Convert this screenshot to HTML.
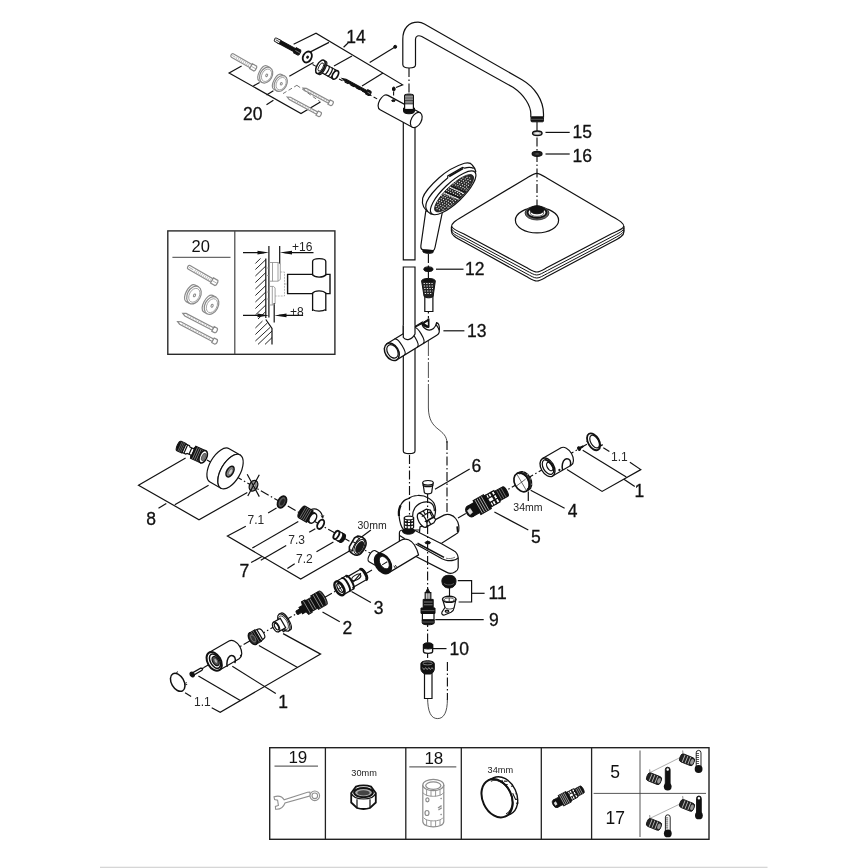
<!DOCTYPE html>
<html>
<head>
<meta charset="utf-8">
<style>
html,body{margin:0;padding:0;background:#fff;}
body{width:868px;height:868px;overflow:hidden;position:relative;}
svg{position:absolute;left:0;top:0;display:block;will-change:transform;}
text{font-family:"Liberation Sans",sans-serif;fill:#111;}
.n{font-size:17.5px;stroke:#111;stroke-width:0.3px;}
.s{font-size:12px;fill:#2a2a2a;}
.m{font-size:10.5px;fill:#222;}
.t{font-size:9.2px;fill:#222;}
.l{stroke:#111;stroke-width:1.2;fill:none;}
.lt{stroke:#222;stroke-width:0.8;fill:none;}
.w{stroke:#111;stroke-width:1.2;fill:#fff;}
.d{stroke:#111;stroke-width:1;fill:#111;}
.g{stroke:#8a8a8a;stroke-width:1.2;fill:#fff;}
.gl{stroke:#8a8a8a;stroke-width:1;fill:none;}
.ax{stroke:#111;stroke-width:1.15;fill:none;stroke-dasharray:9 2.5 1.5 2.5;}
.da{stroke:#111;stroke-width:1.1;fill:none;stroke-dasharray:4 2.5;}
</style>
</head>
<body>
<svg width="868" height="868" viewBox="0 0 868 868">
<rect x="0" y="0" width="868" height="868" fill="#fff"/>
<!--FOOTER-->
<rect x="100" y="866.7" width="667.5" height="1.3" fill="#d6d6d6"/>

<!--LABELS-->
<g id="labels">
<text class="n" x="346.3" y="43.4">14</text>
<text class="n" x="243" y="120.4">20</text>
<text class="n" x="572.5" y="138.4">15</text>
<text class="n" x="572.5" y="162.2">16</text>
<text class="n" x="465" y="275.4">12</text>
<text class="n" x="467" y="336.9">13</text>
<text class="n" x="471.5" y="472.4">6</text>
<text class="n" x="531" y="542.6">5</text>
<text class="n" x="567.8" y="517.4">4</text>
<text class="n" x="634.5" y="496.9">1</text>
<text class="s" x="611" y="461.3">1.1</text>
<text class="m" x="513.3" y="510.8">34mm</text>
<text class="n" x="146.2" y="524.6">8</text>
<text class="s" x="247.5" y="524.3">7.1</text>
<text class="s" x="288.3" y="543.8">7.3</text>
<text class="s" x="296" y="562.7">7.2</text>
<text class="n" x="239.5" y="577.4">7</text>
<text class="m" x="357.5" y="528.8">30mm</text>
<text class="n" x="373.8" y="614.0">3</text>
<text class="n" x="342.5" y="634.4">2</text>
<text class="n" x="278.2" y="707.8">1</text>
<text class="s" x="194" y="706.3">1.1</text>
<text class="n" x="488.5" y="599.0">11</text>
<text class="n" x="489" y="625.9">9</text>
<text class="n" x="449.5" y="655.2">10</text>
</g>

<!--LEADERS-->
<g id="leaders" class="l">
<!-- 14 bracket -->
<path d="M293.6,44.2 L316,33.3 L402.6,84.8 L396,87.5"/>
<path d="M307,53.6 L329,42.4"/>
<path d="M334,66 L352,56"/>
<path d="M369.7,62.5 L395,47"/>
<path d="M362,86 L383,73"/>
<path d="M348,43 L343.6,47.3"/>
<!-- 20 bracket -->
<path d="M241.6,65.9 L229.1,72.9 L301,113.6 L320.4,101.9"/>
<path d="M253.3,86 L259.6,82.5"/>
<path d="M266.5,95 L273.4,90.8"/>
<path d="M266.5,104.7 L273.4,100.2"/>
<path d="M289.3,76.3 L313.5,62.5"/>
<!-- 15/16/12/13 -->
<path d="M545.5,132.4 L569.7,132.4"/>
<path d="M545.5,154 L569.7,154"/>
<path d="M436,269.2 L463.5,269.2"/>
<path d="M443.4,330.8 L464.4,330.8"/>
<!-- 6 -->
<path d="M435,489.2 L469.7,469"/>
<!-- 5, 4, 34mm -->
<path d="M494.4,512 L528.3,530"/>
<path d="M530.7,490.2 L564.6,508.3"/>
<path d="M528.3,491.4 L528.3,501"/>
<!-- 1 right bracket -->
<path d="M582.7,450.2 L626.3,476.9"/>
<path d="M567,469.6 L602.1,491.4 L640.8,469.6 L629.9,462.3"/>
<path d="M603.3,447.8 L609.4,451.5"/>
<path d="M623.9,479.3 L634.8,486.5"/>
<!-- 8 bracket -->
<path d="M185.6,458 L138.5,485.3 L199,519.7 L247.3,492.6"/>
<path d="M208.6,485.3 L174.8,504.7"/>
<path d="M166.3,503.5 L158.5,508.3"/>
<!-- 7 bracket -->
<path d="M245.8,526.3 L227.4,536 L300.7,579 L350.3,550.5"/>
<path d="M298.3,521.5 L252.3,548.1"/>
<path d="M286.2,545.6 L260.8,560.2"/>
<path d="M294.7,563.8 L287.4,568.6"/>
<path d="M333.4,542 L316.5,551.7"/>
<path d="M262,556.5 L251.1,562.6"/>
<path d="M276.5,508.1 L268.1,513"/>
<path d="M315.3,528.7 L309.2,532.3"/>
<path d="M370.9,529.9 L361.2,537.2"/>
<!-- 3, 2 -->
<path d="M351.5,591.6 L370.9,602.5"/>
<path d="M322.5,612 L339.8,621.7"/>
<!-- 1 left bracket -->
<path d="M198.4,675.9 L240.7,700.8"/>
<path d="M232.3,666.2 L275.8,693.6"/>
<path d="M258.9,645.6 L297.6,667.4"/>
<path d="M283.1,633.6 L320.6,654.1 L220.2,712.2 L211.7,707.8"/>
<path d="M185.1,692.8 L191.1,696.5"/>
<!-- 11, 9, 10 -->
<path d="M457.8,580.7 L471.6,580.7 L471.6,602 L458.6,602"/>
<path d="M471.6,593.3 L484.6,593.3"/>
<path d="M435.3,619.6 L483.7,619.6"/>
<path d="M432.7,648.6 L446.5,648.6"/>
</g>

<g id="axes">
<!-- vertical axes -->
<path class="ax" d="M409,68 L409,94"/>
<path class="ax" d="M428.4,254 L428.4,323"/>
<path class="ax" d="M447,441 L447,512"/>
<path class="ax" d="M447.4,662 L447.4,700"/>
<path class="ax" d="M449.5,588 L449.5,598"/>
<!-- hose thin line -->
<path class="lt" style="stroke-dasharray:16 2 2 2" d="M428.4,340 L428.4,402"/>
<path class="lt" d="M428.4,400 L428.4,408 C428.6,420 433,425 438,429 C443,433 446.8,436 447,443"/>
<path class="lt" d="M427.6,697 C427.6,712 431,718.6 437.6,718.6 C444,718.6 447.4,712 447.4,699"/>
<!-- diagonal axes -->
<path class="ax" d="M207,460 L370,553"/>
<path class="ax" d="M190,675.5 L372,570"/>
<path class="ax" d="M458,518 L596,439"/>
<path class="da" d="M312.6,64.5 L322,69.5 M339,79 L372,96 L380,100.5"/>
<path class="da" d="M296.9,85.3 L320.4,101.9 M283,93.6 L296.9,85.3" style="stroke:#555;stroke-width:0.8"/>
</g>

<g id="arm">
<path class="w" d="M402.8,64.5 L402.8,39.2 C402.8,28 409,22.2 418,22.2 C421,22.2 423,23.2 424.4,24 L522,79.7 C534.6,87 543.5,100 543.5,114 L543.5,117 L530.8,117 L530.8,114 C530.8,106 524.5,95 513,87.3 L421.8,36.6 C418.5,34.8 415.5,36 415.5,39.2 L415.5,65 C415.5,67 412.5,68 409.2,68 C405.8,68 402.8,67 402.8,64.5 Z"/>
<rect class="d" x="531" y="117" width="12.5" height="4.8" rx="1"/>
<path d="M531,119.3 L543.5,119.3" stroke="#888" stroke-width="0.6"/>
</g>

<g id="pipe">
<path class="w" d="M403.3,122 L403.3,259.8 L415,259.8 L415,122 Z"/>
<path class="w" d="M403.3,267 L403.3,451 C403.3,454.5 415,454.5 415,451 L415,267 Z"/>
</g>

<g id="wallbracket" transform="translate(384,102.6) rotate(28.4)">
<path class="w" d="M0,-8.2 C-6.5,-8.2 -6.5,8.2 0,8.2 L36.7,8.2 L36.7,-8.2 Z"/>
<ellipse class="w" cx="36.7" cy="0" rx="5" ry="8.2"/>
</g>
<g id="wallfit">
<path class="d" d="M403.5,108 L403.5,111.5 C403.5,114.5 414.5,114.5 414.5,111.5 L414.5,108 Z"/>
<rect class="w" x="404.6" y="96" width="8.8" height="13.5"/>
<path d="M404.6,95.8 C404.6,93.3 413.4,93.3 413.4,95.8 L413.4,100.3 L404.6,100.3 Z" fill="#555" stroke="#111" stroke-width="1.1"/>
<path d="M405,96.4 L413,96.4 M405,98 L413,98 M405,99.6 L413,99.6" stroke="#ccc" stroke-width="0.6"/>
<path class="l" d="M404.6,102 L413.4,102 M404.6,103.8 L413.4,103.8" style="stroke-width:1"/>
<ellipse class="d" cx="393.8" cy="89" rx="1.4" ry="2"/>
<ellipse class="d" cx="393.4" cy="100.7" rx="1.7" ry="0.9"/>
<path class="da" d="M393.6,91.5 L393.6,99"/>
<circle class="d" cx="395.2" cy="46.8" r="1.5"/>
</g>

<g id="headshower">
<!-- rim -->
<path class="w" d="M464.2,215.6 L526,178.4 C531,175.4 534,173.3 536.8,173.3 C539.6,173.3 542.6,175.4 547.6,178.4 L610.5,215.6 C620,221 624,223 624,227 L624,231.5 C624,235.5 620,238 611,242.5 L547.6,276.3 C542.6,279 539.6,281 536.8,281 C534,281 531,279 526,276.3 L464,242 C455,237.5 451.4,235 451.4,231 L451.4,227 C451.4,223 455,221 464.2,215.6 Z"/>
<path class="l" d="M451.6,228 C452,231 455,232.5 464,237 L526,270.4 C531,273 534,275 536.8,275 C539.6,275 542.6,273 547.6,270.4 L611,237.2 C620,232.5 623.5,231 623.8,228" style="stroke-width:1"/>
<path class="l" d="M451.6,230 C452,233.5 455,235 464,239.5 L526,273.4 C531,276 534,278 536.8,278 C539.6,278 542.6,276 547.6,273.4 L611,240 C620,235 623.5,233.5 623.8,230" style="stroke-width:1"/>
<!-- top face -->
<path class="l" d="M451.5,226 C452,228.5 455,230.2 464,234 L526,267.3 C531,270 534,272 536.8,272 C539.6,272 542.6,270 547.6,267.3 L611,234 C620,230.2 623.5,228.5 623.9,226"/>
<ellipse class="l" cx="537" cy="220.3" rx="21.6" ry="12.6"/>
<ellipse cx="537" cy="213" rx="12" ry="7" fill="#666" stroke="#222" stroke-width="0.8"/>
<ellipse cx="537" cy="212.4" rx="9.4" ry="5.5" fill="#fff" stroke="#111" stroke-width="1.8"/>
<ellipse cx="537" cy="213" rx="6.8" ry="3.4" fill="none" stroke="#333" stroke-width="0.8"/>
<ellipse class="d" cx="537" cy="209.8" rx="7" ry="4"/>
<path class="ax" d="M537,122 L537,206"/>
</g>

<g id="handshower">
<!-- handle -->
<path class="w" d="M425.8,211 L420.9,245.5 C420.6,248.2 422,249.6 423,249.8 L433.2,250.6 C434,250.4 434.6,249.5 435,247.5 L442.6,211 Z"/>
<path class="d" d="M422.9,249.8 L433.3,250.6 L433,252.6 C431,253.8 425,253.6 423,252 Z"/>
<!-- head back -->
<g transform="translate(453,193) rotate(-43.5)">
<path class="w" d="M-30.5,0 C-32.8,-8 -30,-14 -25.5,-17.2 C-20,-20.2 -10,-20.9 0.4,-20.6 C10,-20.4 20,-18 28.8,-13.7 C32,-11.8 33.6,-9 33.2,-7.1 C33.2,-4 32.6,-2 31.4,0 L20,6 L-20,6 Z"/>
<path class="l" d="M-31,-4.4 C-30.5,-8 -28,-10.5 -25,-11.8 C-20,-14 -10,-15 0,-14.9 L6.5,-14.6 L8,-16 L24.5,-12 L25.5,-10 C28.5,-8.6 31,-6 32,-3.6"/>
<path d="M8.6,-14.6 L24,-10.9" stroke="#111" stroke-width="1.7" fill="none"/>
<ellipse class="w" cx="0.2" cy="0" rx="30" ry="9.8"/>
<ellipse cx="0.6" cy="0.9" rx="25.8" ry="7.9" fill="#2a2a2a" stroke="#111" stroke-width="0.8"/>
<g stroke="#fff" stroke-width="1" fill="none" stroke-dasharray="1.1 1.4">
<path d="M-23,0.5 L23,0.5 M-22,2.8 L22,2.8 M-19,5 L19,5 M-22,-1.8 L22,-1.8 M-14,7 L14,7 M-18,-4 L18,-4 M-11,-6 L11,-6"/>
</g>
<path d="M-5,-6.6 L2,8.4 M3.5,-6.6 L9.5,7.8" stroke="#111" stroke-width="1.5" fill="none"/>
<path d="M-6.9,-6.6 L0,8.6 M1.6,-6.8 L7.5,8" stroke="#fff" stroke-width="0.8" fill="none"/>
</g>
</g>

<g id="hose12">
<ellipse class="d" cx="428.4" cy="269.2" rx="4.6" ry="2.3"/>
<path class="w" d="M424.8,296 L424.8,311.5 L432.9,311.5 L432.9,296 Z"/>
<path d="M421.6,281 C421.6,277.6 435.3,277.6 435.3,281 L433.2,296 C433,298.4 424.2,298.4 424,296 Z" fill="#222" stroke="#111" stroke-width="1"/>
<g stroke="#fff" stroke-width="0.9" stroke-dasharray="1.3 1.3" fill="none">
<path d="M423.6,283.5 L433.6,283.5 M423.8,286 L433.4,286 M424.2,288.5 L433,288.5 M424.5,291 L432.8,291 M424.8,293.5 L432.5,293.5"/>
</g>
<ellipse cx="428.4" cy="280.4" rx="5.6" ry="1.8" fill="#111"/>
</g>

<g id="slider13">
<g transform="translate(391.8,351.8) rotate(-31.5)">
<path class="w" d="M0,-9.4 L46,-9.4 C49,-9.4 52,-6 52,-2 L52,4 C52,8 50,9.4 47,9.4 L0,9.4 Z"/>
<ellipse class="w" cx="0" cy="0" rx="6.6" ry="9.4" style="stroke-width:1.5"/>
<ellipse class="w" cx="0.8" cy="0" rx="5" ry="7.3"/>
<path class="l" d="M9,-9.4 C13,-9.4 13,9.4 9,9.4"/>
<path class="l" d="M24,-9.4 C28.5,-9.4 28.5,9.4 24,9.4"/>
<path class="l" d="M31,-9.4 C35.5,-9.4 35.5,9.4 31,9.4"/>
</g>
<!-- pipe pass-through -->
<path d="M403.3,325.4 L403.3,337.5 C406,341 412,340.5 415,334 L415,325.4 Z" fill="#fff"/>
<path class="l" d="M403.3,325.4 L403.3,337.5 C406,341 412,340 415,334 L415,325.4"/>
<!-- fork notch -->
<path d="M421.8,323.4 C424,329 430,331 433.5,328.5 C436,326.5 436.5,324 436.5,322.8 L432,318 L424,319 Z" fill="#fff"/>
<path class="l" d="M415.5,327 L421.8,323.4 C423,329 429,332 433.5,328.5 C436,326.5 436.3,324 436.6,322.6 C438.5,323 439.6,326 439.4,330.5"/>
<path class="d" d="M420.5,324 L429,318.8 L429,327.5 C426,327.5 423.5,326.5 421.8,323.4 Z"/>
<path d="M424.5,323.6 L427.8,321.5 L427.8,325.6 Z" fill="#fff"/>
</g>

<g id="mixer">
<!-- escutcheon -->
<path class="w" d="M398.9,514.6 C398.5,507 402,500.5 407.7,498.9 C411,496.5 414,495.5 417.5,495.5 C422,495.3 426,496.5 428.3,497.9 C432,500 434,502.5 434.7,505 C435.6,507.5 435.8,512 434.7,516.1 L430,530 L404,530 C401.5,528 399.5,521 398.9,514.6 Z"/>
<path d="M400.6,505.5 C399,508.5 398.6,512 399,516" stroke="#111" stroke-width="2.2" fill="none"/>
<path class="l" d="M412.6,516.5 C412.6,512 414.6,507.5 417,505.5 C420.5,502.5 424,501.7 427.3,501.9 C430.5,502.3 432.7,504 433.6,506.5 C434.4,508.5 434.4,510 434.2,511.2"/>
<!-- right cylinder -->
<path class="w" d="M427.3,523.9 L444,515.1 C446,514.2 448,514.1 449.8,514.6 C452.5,515.3 454.5,516.8 455.7,518.5 C457.3,520.5 458.3,523 458.7,525.4 C459,527.5 459,529.5 458.7,531.2 C458.3,532.6 457.2,533.5 455.7,534.2 L442,543 L418,548 L420,527 Z"/>
<path d="M457.1,526.3 L457.7,532" stroke="#111" stroke-width="1.6" fill="none"/>
<!-- right nut -->
<g transform="translate(422.2,520.3) rotate(-29)">
<path class="w" d="M0,-7.8 L9,-7.8 L12,-5 L12,6 L9,7.8 L0,7.8 Z"/>
<ellipse class="w" cx="0" cy="0" rx="3.6" ry="7.8" style="stroke-width:1.3"/>
<path class="l" d="M1.5,-3.6 L10.5,-3.6 L12,-2 M1.5,2.6 L10.5,2.6 L12,3.6 M5.5,-7.8 L5.5,-3.6 M5.5,2.6 L5.5,7.8 M10.5,-3.6 L10.5,2.6" style="stroke-width:1.2"/>
</g>
<path class="l" d="M434.2,517 L427.6,520.8"/>
<!-- spout body -->
<path class="w" d="M399.4,533 C399.4,531 400.5,530 403,530 L414.6,530.3 L442,544 L453.8,550.8 C456,552 457.7,554 458.2,557.7 L458.2,567.5 C458,569.5 457,570.8 455.7,571.4 C454,572.5 452.5,573.4 450.8,573.4 C449.5,573.4 448,573 446.9,572.4 L416.5,556.7 L403,548 L399.4,541 Z"/>
<path class="l" d="M458,558 C456.5,559.3 455,560 453.8,560.2 C452,560.7 450,560.8 447.9,560.6 C446,560.3 444,559.6 442,558.7 L415.6,544"/>
<path d="M417.5,543.2 L444,557.4" stroke="#111" stroke-width="1.6" fill="none"/>
<path d="M446,558.2 C449,559 452,558.6 455,557.2" stroke="#555" stroke-width="0.8" fill="none"/>
<path class="l" d="M399.6,535.5 L404.8,538.8"/>
<ellipse class="d" cx="427.8" cy="542.7" rx="2.7" ry="1.2"/>
<!-- left nut -->
<ellipse class="d" cx="408.5" cy="531.2" rx="6.1" ry="3"/>
<path class="w" d="M404.3,518 L404.3,527.3 C404.3,529.6 413.6,529.6 413.6,527.3 L413.6,518 Z"/>
<ellipse class="w" cx="408.95" cy="518" rx="4.65" ry="1.9"/>
<path class="l" d="M407.2,519.8 L407.2,528.7 M410.7,519.8 L410.7,528.7 M404.3,521.5 C405.5,522.8 412.5,522.8 413.6,521.5 M404.3,524.6 C405.5,525.9 412.5,525.9 413.6,524.6"/>
<!-- stub -->
<g transform="translate(372.2,556.2) rotate(30)">
<path class="w" d="M0,-6.3 L12,-6.3 L12,6.3 L0,6.3 C-4,6.3 -4,-6.3 0,-6.3 Z"/>
</g>
<!-- left cylinder -->
<g transform="translate(383,563.6) rotate(-31)">
<path class="w" d="M0,-10.8 L27,-10.8 C33.5,-10.8 36.5,-5 36.5,0 C36.5,5 36,8 35,10.8 L0,10.8 Z"/>
<ellipse cx="0" cy="0" rx="7.4" ry="10.8" fill="#111" stroke="#111" stroke-width="1.6"/>
<ellipse cx="1.6" cy="-0.2" rx="4.2" ry="6.8" fill="#fff" stroke="#111" stroke-width="0.8"/>
<path d="M-1.4,0.6 L4.6,0.6" stroke="#111" stroke-width="0.9"/>
<path class="l" d="M8.2,7.4 L8.2,10.2 M9.8,7.6 L9.8,10.2" style="stroke-width:0.8"/>
</g>
</g>

<path class="ax" d="M409.5,455 L409.5,517"/>
<path class="ax" d="M427.6,494 L427.6,660"/>
<g id="part6">
<path class="w" d="M423,483 L424.3,492.3 C424.5,494.3 431.5,494.3 431.7,492.3 L433,483 Z"/>
<ellipse class="w" cx="428" cy="482.8" rx="5.3" ry="2.3"/>
<path class="l" d="M422.8,484.5 C423.5,487.3 432.5,487.3 433.2,484.5"/>
</g>

<g id="cart5" transform="translate(470,511.5) rotate(-29.5)">
<path class="d" d="M0,-5.8 L11,-5.8 L11,5.8 L0,5.8 Z"/>
<path class="d" d="M8,-8 L20,-8 L20,8 L8,8 Z"/>
<path d="M10,-7.6 L10,7.6 M12.4,-7.6 L12.4,7.6 M14.8,-7.6 L14.8,7.6 M17.2,-7.6 L17.2,7.6" stroke="#bbb" stroke-width="0.8" fill="none"/>
<path class="w" d="M20,-6.4 L31,-6.4 L31,6.4 L20,6.4 Z"/>
<path class="d" d="M20,-6.4 L21.6,-6.4 L21.6,6.4 L20,6.4 Z M26.8,-6.4 L28,-6.4 L28,6.4 L26.8,6.4 Z"/>
<path class="l" d="M21.6,-2.4 L31,-2.4 M21.6,2 L31,2 M24,-6.4 L24,-2.4 M24,2 L24,6.4"/>
<path class="d" d="M31,-5.4 L40.5,-5.4 C43,-5.4 43,5.4 40.5,5.4 L31,5.4 Z"/>
<path d="M33.5,-5 L33.5,5 M36,-5 L36,5 M38.5,-5 L38.5,5" stroke="#999" stroke-width="0.6" fill="none"/>
<ellipse class="d" cx="0" cy="0" rx="3.8" ry="5.8"/>
<path d="M-1.8,-2 L1.6,-2.6 L1.8,2 L-1.6,2.6 Z" fill="#ddd" stroke="#fff" stroke-width="0.5"/>
</g>

<g id="ring4" transform="translate(521.6,482.3) rotate(-27)">
<path d="M0,-10 L2.8,-10 A7,10 0 0 1 2.8,10 L0,10 Z" fill="#333" stroke="#111" stroke-width="1.2"/>
<path d="M5.6,-8 L7,-8.8 M8.2,-4 L9.8,-4.4 M8.8,1 L10,1 M7.6,6 L9,6.6" stroke="#ccc" stroke-width="0.7" fill="none"/>
<ellipse cx="0" cy="0" rx="7" ry="10" fill="#fff" stroke="#111" stroke-width="1.7"/>
<path d="M1.5,-8.6 A5.4,8.6 0 0 1 1.5,8.6" fill="none" stroke="#111" stroke-width="0.8"/>
<path class="lt" d="M-0.5,-9 L0.5,9 M-6.6,1 L5,-1" style="stroke-width:0.6"/>
</g>

<g id="handleR" transform="translate(547.5,467.3) rotate(-30)">
<path class="w" d="M0,-10.1 L21.5,-10.1 A6.2,10.1 0 0 1 21.5,10.1 L0,10.1 Z"/>
<ellipse class="w" cx="0" cy="0" rx="6.4" ry="10.1" style="stroke-width:1.4"/>
<ellipse class="w" cx="0.6" cy="0" rx="4.8" ry="8"/>
<ellipse class="l" cx="2.4" cy="0.5" rx="2.6" ry="4.6"/>
<path class="l" d="M1.5,-7.8 C4.5,-5.6 5.5,3 3.4,7.2"/>

<circle class="d" cx="9" cy="8.2" r="0.6"/>
</g>

<path d="M562.6,470 C561.5,466 562.5,461 565,459.3 C567.5,457.8 570.3,459.5 570.6,462.5 C570.8,464 570.4,465.5 569.9,466" fill="none" stroke="#111" stroke-width="1.5"/>
<g id="capR">
<g transform="translate(580.3,447.8) rotate(-29.8)">
<ellipse class="d" cx="-1.5" cy="0" rx="1.3" ry="1.9"/>
<path class="d" d="M-1,-0.8 L3.2,-0.4 L3.2,0.4 L-1,0.8 Z"/>
</g>
<g transform="translate(593.6,441.8) rotate(-29.8)">
<ellipse cx="0" cy="0" rx="5.5" ry="9.2" fill="#fff" stroke="#111" stroke-width="1.8"/>
<ellipse class="l" cx="1" cy="0.3" rx="3.9" ry="7"/>
<path class="l" d="M4,7 L6.5,7 M-4.6,-3.5 L-6,-3.5" style="stroke-width:1.3"/>
</g>
</g>

<g id="grp8">
<!-- S-union -->
<g transform="translate(178.5,445.8) rotate(24)">
<path class="d" d="M0.5,-5.2 L6,-5.2 L6,5.2 L0.5,5.2 C-2,5.2 -2,-5.2 0.5,-5.2 Z"/>
<path d="M1.6,-5 L1.6,5 M3.2,-5 L3.2,5 M4.8,-5 L4.8,5" stroke="#888" stroke-width="0.6"/>
<path class="w" d="M6,-4.6 L10,-4.6 L11,-3.4 L15,-3.4 L16,-6 L16,6 L15,3.4 L11,3.4 L10,4.6 L6,4.6 Z"/>
<path class="l" d="M8,-4.6 L8,4.6 M13,-3.4 L13,3.4"/>
<path class="d" d="M16,-6.6 L27,-6.6 L27,6.6 L16,6.6 Z"/>
<path d="M18,-6.2 L18,6.2 M20,-6.2 L20,6.2 M22,-6.2 L22,6.2 M24,-6.2 L24,6.2" stroke="#aaa" stroke-width="0.6"/>
<ellipse cx="27" cy="0" rx="3.6" ry="6.6" fill="#fff" stroke="#111" stroke-width="1.6"/>
<ellipse cx="27.6" cy="0" rx="2" ry="4" fill="#777" stroke="#333" stroke-width="0.6"/>
</g>
<!-- disc -->
<g transform="translate(230.5,471.6) rotate(30)">
<path class="w" d="M-12.6,-19.2 L0,-19.2 L0,19.2 L-12.6,19.2 A9.6,19.2 0 0 1 -12.6,-19.2 Z"/>
<ellipse class="w" cx="0" cy="0" rx="9.6" ry="19.2"/>
<path class="l" d="M-3,-18.4 A9.6,19.2 0 0 0 -3,18.4" style="stroke-width:0.7"/>
<ellipse cx="-0.4" cy="0.2" rx="3.2" ry="5.8" fill="#888" stroke="#111" stroke-width="1.6"/>
<ellipse cx="0.2" cy="0.2" rx="1.6" ry="3.4" fill="#ccc" stroke="#444" stroke-width="0.5"/>
</g>
<!-- crossed washer -->
<g transform="translate(253.5,485.7)">
<ellipse cx="0" cy="0" rx="3.9" ry="5.6" fill="#999" stroke="#111" stroke-width="1.4" transform="rotate(25)"/>
<ellipse cx="0.3" cy="0" rx="1.5" ry="2.6" fill="#ddd" stroke="#333" stroke-width="0.5" transform="rotate(25)"/>
<path class="l" d="M-6.3,-11.5 L5.8,10.9 M5.8,-11 L-5.7,10.3"/>
</g>
</g>

<g id="grp7">
<g transform="translate(282,502) rotate(28)">
<ellipse cx="0" cy="0" rx="3.9" ry="6.2" fill="#555" stroke="#111" stroke-width="1.8"/>
<ellipse cx="0.4" cy="0" rx="1.8" ry="3.6" fill="#222"/>
</g>
<!-- connector -->
<g transform="translate(302,512) rotate(30)">
<path class="d" d="M0,-6.6 L9,-6.6 L9,6.6 L0,6.6 C-3.5,6.6 -3.5,-6.6 0,-6.6 Z"/>
<path d="M1,-6.2 L1,6.2 M3,-6.4 L3,6.4 M5,-6.4 L5,6.4 M7,-6.4 L7,6.4" stroke="#999" stroke-width="0.6"/>
<path class="d" d="M9,-5.6 L12.5,-5.6 L12.5,5.6 L9,5.6 Z"/>
<ellipse cx="12.5" cy="0" rx="3.2" ry="5.4" fill="#fff" stroke="#111" stroke-width="1.5"/>
</g>
<path class="l" d="M310.6,509.7 C316,507 322,511 322.6,517.5"/>
<path class="l" d="M321,515.5 L322.7,518.3 L323.8,515.2" style="stroke-width:0.8"/>
<ellipse cx="320.7" cy="524.3" rx="2.9" ry="5" fill="#fff" stroke="#111" stroke-width="1.9" transform="rotate(28 320.7 524.3)"/>
<!-- sleeve 7.2 -->
<g transform="translate(336.4,534.9) rotate(30)">
<path class="w" d="M0,-4.5 L7,-4.5 L7,4.5 L0,4.5 Z"/>
<path class="d" d="M4.6,-4.5 L7,-4.5 C10,-4.5 10,4.5 7,4.5 L4.6,4.5 C6.6,2.5 6.6,-2.5 4.6,-4.5 Z"/>
<ellipse cx="0" cy="0" rx="2.3" ry="4.5" fill="#fff" stroke="#111" stroke-width="1.8"/>
</g>
<!-- nut 30mm -->
<g transform="translate(357.5,545.6) rotate(30)">
<path d="M-6.5,-5 L-4.5,-8.4 C-2,-10 3,-10 5,-8 C8.4,-5 8.4,5 5,8 C3,10 -2,10 -4.5,8.4 L-6.5,5 Z" fill="#fff" stroke="#111" stroke-width="1.6"/>
<path class="l" d="M-6.5,-1 L-1.5,-1.4 M-5,-7.6 L-1.2,-6.4 M-5,7.6 L-1.2,6.4 M-1.5,-9 C-3.5,-5 -3.5,5 -1.5,9" style="stroke-width:1"/>
<ellipse cx="2.2" cy="0" rx="4.4" ry="8" fill="#fff" stroke="#111" stroke-width="1"/>
<ellipse cx="2.6" cy="0.2" rx="3.5" ry="6.6" fill="#1a1a1a"/>
</g>
</g>

<g id="grpL">
<!-- part 3 -->
<g transform="translate(339.5,588.3) rotate(-30)">
<path class="w" d="M0,-7.6 L12,-7.6 L12,-6 L28,-6 C31,-6 31,6 28,6 L12,6 L12,7.6 L0,7.6 Z"/>
<path d="M27,-6 C30.5,-6 30.5,6 27,6" fill="none" stroke="#111" stroke-width="3"/>
<path d="M7,-7.6 C10.5,-7.6 10.5,7.6 7,7.6 M11.5,-7.6 C15,-7.6 15,7.6 11.5,7.6" fill="none" stroke="#111" stroke-width="2"/>
<ellipse class="l" cx="20" cy="-1" rx="5" ry="2.4" style="stroke-width:1.1"/>
<path class="l" d="M15,1.5 L26,-2.5"/>
<ellipse cx="0" cy="0" rx="4" ry="7.6" fill="#fff" stroke="#111" stroke-width="2.4"/>
<ellipse class="l" cx="0.8" cy="0" rx="2.4" ry="5"/>
<path class="l" d="M0.8,-5 L0.8,5 M-1.4,0 L3,0" style="stroke-width:0.8"/>
</g>
<!-- cartridge 2 -->
<g transform="translate(297.3,612.6) rotate(-30)">
<path class="d" d="M0,-2 L4,-2 L4,-3.6 L8,-3.6 L9,-7.2 L13,-7.2 L13,-6.2 L20,-6.2 L20,-7.8 L29.5,-7.8 C32.6,-7.8 32.6,7.8 29.5,7.8 L20,7.8 L20,6.2 L13,6.2 L13,7.2 L9,7.2 L8,3.6 L4,3.6 L4,2 L0,2 C-1.3,2 -1.3,-2 0,-2 Z"/>
<path d="M11,-6.8 L11,6.8 M15.5,-5.8 L15.5,5.8 M18,-5.8 L18,5.8 M22.5,-7.4 L22.5,7.4 M25.5,-7.4 L25.5,7.4" stroke="#aaa" stroke-width="0.7"/>
<path d="M29,-7.2 C31.2,-6 31.2,6 29,7.2" stroke="#999" stroke-width="0.7" fill="none"/>
</g>
<!-- flange -->
<g transform="translate(285.6,621.5) rotate(-30)">
<path class="w" d="M-2,-9.6 L0,-9.6 C4.8,-9.6 4.8,9.6 0,9.6 L-2,9.6 Z"/>
<ellipse class="w" cx="-2" cy="0" rx="4.6" ry="9.6"/>
<ellipse class="l" cx="-2.4" cy="0" rx="3.6" ry="7.6" style="stroke-width:0.7"/>
<path class="w" d="M-11,-5.4 L-3,-5.4 L-3,5.4 L-11,5.4 Z"/>
<ellipse class="w" cx="-11" cy="0" rx="2.9" ry="5.4" style="stroke-width:1.3"/>
<ellipse class="l" cx="-10.4" cy="0" rx="1.7" ry="3.6"/>
<path class="l" d="M-7,5.4 L-7,7.6 L-4,7.6" style="stroke-width:1.3"/>
</g>
<!-- knurled small part -->
<g transform="translate(252.8,638.6) rotate(-30)">
<path class="d" d="M0,-6.6 L6,-6.6 L6,6.6 L0,6.6 Z"/>
<path class="w" d="M6,-6.2 L10,-5.4 C13,-5 13,5 10,5.4 L6,6.2 Z"/>
<path class="l" d="M8,-5.8 L8,5.8"/>
<ellipse cx="0" cy="0" rx="3.6" ry="6.6" fill="#333" stroke="#111" stroke-width="1.4"/>
<ellipse cx="0.4" cy="0" rx="2" ry="4" fill="none" stroke="#888" stroke-width="0.7"/>
<path d="M2,-6.4 L2,-4 M4,-6.5 L4,6.5" stroke="#888" stroke-width="0.6"/>
</g>
<!-- handle left -->
<g transform="translate(214.2,661.4) rotate(-30)">
<path class="w" d="M0,-10.2 L23,-10.2 A6.6,10.2 0 0 1 23,10.2 L0,10.2 Z"/>
<ellipse cx="0" cy="0" rx="6.6" ry="10.2" fill="#fff" stroke="#111" stroke-width="2"/>
<ellipse cx="0.8" cy="0.2" rx="4.6" ry="7.8" fill="#fff" stroke="#111" stroke-width="1.5"/>
<ellipse cx="1.4" cy="0.4" rx="2.9" ry="5" fill="#555" stroke="#111" stroke-width="1.3"/>
<ellipse cx="1.6" cy="0.4" rx="1.4" ry="2.6" fill="#bbb" stroke="#333" stroke-width="0.5"/>

<path d="M25.9,7.4 L25.9,9" stroke="#111" stroke-width="1.2"/>
</g>
<path d="M227.3,666.8 C226.3,662.8 227.3,657.8 229.8,656.1 C232.3,654.6 235,656.3 235.3,659.3 C235.5,660.8 235.1,662.3 234.6,662.9" fill="none" stroke="#111" stroke-width="1.5"/>
<!-- screw -->
<g transform="translate(192.2,674.5) rotate(-30)">
<path class="w" d="M1,-1.3 L10.5,-1.3 L12.4,0 L10.5,1.3 L1,1.3 Z"/>
<ellipse class="d" cx="0" cy="0" rx="2" ry="2.6"/>
</g>
<!-- cap -->
<g transform="translate(177.7,682.3) rotate(-30)">
<ellipse cx="0" cy="0" rx="6.2" ry="9.8" fill="#fff" stroke="#111" stroke-width="1.5"/>
<path class="l" d="M3.6,-8.6 L5.4,-9.4 M5,6 L7.2,6.5 M5.6,4.4 L7.8,4.9" style="stroke-width:0.9"/>
</g>
</g>

<g id="bottomC">
<!-- 11 aerator -->
<path class="d" d="M441.9,581 C441.9,577 445,575.3 449,575.3 C453,575.3 456,577 456,581 C456,585.5 453,588 449,588 C445,588 441.9,585.5 441.9,581 Z"/>
<path d="M444,583.4 C446,585.4 452,585.4 454,583.4" stroke="#777" stroke-width="0.7" fill="none"/>
<!-- 11 holder -->
<path class="w" d="M442.6,599.4 L445,607.5 L442,612 C441.2,614 442.5,615.4 444.5,615 L451,612.2 C453.5,611 454,609 454.2,607.5 L455.9,599.4 Z"/>
<ellipse class="w" cx="449.2" cy="599.3" rx="6.7" ry="3.1" style="stroke-width:1.4"/>
<ellipse class="l" cx="449.2" cy="599.8" rx="5" ry="2" style="stroke-width:0.7"/>
<path class="l" d="M445,607.5 C447,609.5 452,609.5 454.2,607.5 M449.2,598 L449.2,602" style="stroke-width:0.8"/>
<ellipse class="l" cx="447" cy="611.2" rx="1.8" ry="1"/>
<!-- 9 -->
<path class="d" d="M427.7,588.4 L429.9,592.6 L425.6,592.6 Z"/>
<path class="w" d="M425.2,592.6 L430.8,592.6 L430.8,600 L425.2,600 Z"/>
<path class="l" d="M427.2,592.6 L427.2,600 M429,592.6 L429,600" style="stroke-width:0.7"/>
<path class="d" d="M423.2,599.4 L433.2,599.4 L433.2,608 L423.2,608 Z"/>
<path d="M424,602 L432.5,602 M424,604.8 L432.5,604.8" stroke="#aaa" stroke-width="0.7"/>
<path class="d" d="M421,608 L435,608 L435,613.4 L421,613.4 Z"/>
<path d="M421.5,610.6 L434.5,610.6" stroke="#888" stroke-width="0.6"/>
<path class="w" d="M422.4,613.4 L434,613.4 L434,620 L422.4,620 Z"/>
<path class="d" d="M422.2,619.8 L434.2,619.8 L434.2,623 C434.2,625.4 422.2,625.4 422.2,623 Z"/>
<path d="M422.6,622 L433.8,622" stroke="#999" stroke-width="0.6"/>
<!-- 10 -->
<path class="w" d="M423.5,645 L423.5,651.6 C423.5,654 432.6,654 432.6,651.6 L432.6,645 Z" style="stroke-width:1.4"/>
<path class="d" d="M423.5,644.6 C423.5,642.2 432.6,642.2 432.6,644.6 L432.6,647.6 C432.6,649.4 423.5,649.4 423.5,647.6 Z"/>
<!-- hose nut -->
<path class="w" d="M424.5,672 L424.5,698.5 L432,698.5 L432,672 Z"/>
<path class="d" d="M420.9,663.6 C420.9,659.8 434.3,659.8 434.3,663.6 L434.3,669 C434.3,671 432.5,673.6 430.5,674 L425,674 C423,673.6 420.9,671 420.9,669 Z"/>
<ellipse cx="427.6" cy="663.4" rx="4.8" ry="1.5" fill="none" stroke="#aaa" stroke-width="0.7"/>
<path d="M422.5,667.6 L424,669.6 L425.6,667.6 L427.2,669.6 L428.8,667.6 L430.4,669.6 L432,667.6 L433.2,669.2" stroke="#bbb" stroke-width="0.7" fill="none"/>
</g>

<g id="grp14">
<!-- bolt 14 -->
<g transform="translate(276.5,40.2) rotate(28.5)">
<path class="d" d="M2,-1.8 L21,-1.8 L21,1.8 L2,1.8 Z"/>
<path class="w" d="M-1,-1.9 L4,-1.9 L4,1.9 L-1,1.9 C-2.6,1.9 -2.6,-1.9 -1,-1.9 Z" style="stroke-width:0.9"/>
<path class="l" d="M-1,0 L3.4,0" style="stroke-width:0.7"/>
<path class="d" d="M21,-2.8 L26,-2.8 L26.8,-1.5 L26.8,1.5 L26,2.8 L21,2.8 Z"/>
<path d="M21.5,0 L26.5,0" stroke="#aaa" stroke-width="0.6"/>
</g>
<!-- washer 14 -->
<g transform="translate(307.3,57) rotate(28)">
<ellipse cx="0" cy="0" rx="4.2" ry="5.8" fill="#fff" stroke="#111" stroke-width="1.8"/>
<ellipse class="d" cx="0.3" cy="0" rx="0.8" ry="1.1"/>
</g>
<!-- connector 14 -->
<g transform="translate(320.4,66.8) rotate(28.5)">
<path class="w" d="M2,-4.6 L17,-4.6 L17,4.6 L2,4.6 Z"/>
<path d="M7,-4.6 C9.2,-4.6 9.2,4.6 7,4.6 M10.5,-4.6 C12.7,-4.6 12.7,4.6 10.5,4.6 M13.5,-4.6 C15.7,-4.6 15.7,4.6 13.5,4.6" fill="none" stroke="#111" stroke-width="1.3"/>
<ellipse cx="17" cy="0" rx="2.6" ry="4.6" fill="#fff" stroke="#111" stroke-width="1.7"/>
<path d="M0,-7.4 L2.5,-7.4 C6,-7.4 6,7.4 2.5,7.4 L0,7.4 Z" fill="#555" stroke="#111" stroke-width="1"/>
<ellipse cx="0" cy="0" rx="3.6" ry="7.4" fill="#fff" stroke="#111" stroke-width="1.5"/>
<ellipse class="l" cx="0.5" cy="0" rx="2" ry="4.6" style="stroke-width:0.8"/>
</g>
<!-- screw 14 dark -->
<g transform="translate(342,78.4) rotate(28.4)">
<path class="d" d="M0,0 L4,-1.2 L28,-1.2 L28,1.2 L4,1.2 Z"/>
<path class="d" d="M28,-2.4 L31.4,-2.4 C33,-2.4 33,2.4 31.4,2.4 L28,2.4 Z"/>
<path d="M29,0 L32,0" stroke="#bbb" stroke-width="0.6"/>
</g>
</g>

<g id="grp20">
<!-- gray bolt -->
<g transform="translate(232.3,55.5) rotate(29.6)">
<path class="g" d="M0,-1.9 L22,-1.9 L22,1.9 L0,1.9 C-1.8,1.9 -1.8,-1.9 0,-1.9 Z"/>
<path d="M5,-1.6 L5,1.6 M7,-1.6 L7,1.6 M9,-1.6 L9,1.6 M11,-1.6 L11,1.6 M13,-1.6 L13,1.6 M15,-1.6 L15,1.6 M17,-1.6 L17,1.6 M19,-1.6 L19,1.6" stroke="#aaa" stroke-width="0.7"/>
<path class="g" d="M21.5,-2.8 L26.4,-2.8 L27.2,-1.5 L27.2,1.5 L26.4,2.8 L21.5,2.8 Z"/>
<path class="gl" d="M0,0 L3.6,0 M22,0 L27,0" style="stroke-width:0.6"/>
</g>
<!-- gray discs -->
<g transform="translate(265.8,74.9) rotate(28)">
<path class="g" d="M-3,-8.4 L0,-8.4 L0,8.4 L-3,8.4 C-8.5,8.4 -8.5,-8.4 -3,-8.4 Z"/>
<ellipse class="g" cx="0.4" cy="0" rx="6" ry="8.4"/>
<ellipse class="gl" cx="0.8" cy="0" rx="4.6" ry="6.6" style="stroke-width:0.7"/>
<ellipse class="gl" cx="1" cy="0" rx="0.9" ry="1.3"/>
</g>
<g transform="translate(280.4,83.3) rotate(28)">
<path class="g" d="M-3,-8.4 L0,-8.4 L0,8.4 L-3,8.4 C-8.5,8.4 -8.5,-8.4 -3,-8.4 Z"/>
<ellipse class="g" cx="0.4" cy="0" rx="6" ry="8.4"/>
<ellipse class="gl" cx="0.8" cy="0" rx="4.6" ry="6.6" style="stroke-width:0.7"/>
<ellipse class="gl" cx="1" cy="0" rx="0.9" ry="1.3"/>
</g>
<!-- gray screws -->
<g transform="translate(303.1,88.1) rotate(28.2)">
<path class="g" d="M0,0 L3,-1.3 L29.5,-1.3 L29.5,1.3 L3,1.3 Z"/>
<path d="M5,0 L28,0" stroke="#aaa" stroke-width="0.8" stroke-dasharray="1.5 1.5"/>
<path class="g" d="M29.5,-2.4 L32.4,-2.4 C34.2,-2.4 34.2,2.4 32.4,2.4 L29.5,2.4 Z"/>
</g>
<g transform="translate(287.2,97) rotate(28.2)">
<path class="g" d="M0,0 L3,-1.3 L34,-1.3 L34,1.3 L3,1.3 Z"/>
<path d="M5,0 L32,0" stroke="#aaa" stroke-width="0.8" stroke-dasharray="1.5 1.5"/>
<path class="g" d="M34,-2.4 L36.9,-2.4 C38.7,-2.4 38.7,2.4 36.9,2.4 L34,2.4 Z"/>
</g>
</g>

<!--PARTS-->
<g id="washers">
<ellipse cx="537.3" cy="133.2" rx="4.7" ry="2.3" fill="#bbb" stroke="#111" stroke-width="1.5"/>
<ellipse cx="537.3" cy="133.3" rx="2.3" ry="0.9" fill="#eee"/>
<ellipse cx="537.1" cy="153.8" rx="4.9" ry="2.5" fill="#222" stroke="#111" stroke-width="1.3"/>
<ellipse cx="537.1" cy="153.9" rx="2" ry="0.7" fill="#555"/>
</g>

<g id="inset">
<rect x="167.8" y="230.9" width="167.1" height="123.4" fill="#fff" stroke="#2a2a2a" stroke-width="1.4"/>
<path d="M234.8,230.9 L234.8,354.3" stroke="#444" stroke-width="1.2"/>
<text x="191.5" y="252.2" style="font-size:16.5px">20</text>
<path d="M172.4,257.3 L230.5,257.3" stroke="#444" stroke-width="1"/>
<!-- gray items -->
<g transform="translate(189,267.3) rotate(29.8)">
<path class="g" d="M0,-2 L27,-2 L27,2 L0,2 C-1.8,2 -1.8,-2 0,-2 Z"/>
<path d="M7,-1.7 L7,1.7 M9,-1.7 L9,1.7 M11,-1.7 L11,1.7 M13,-1.7 L13,1.7 M15,-1.7 L15,1.7 M17,-1.7 L17,1.7 M19,-1.7 L19,1.7 M21,-1.7 L21,1.7 M23,-1.7 L23,1.7 M25,-1.7 L25,1.7" stroke="#aaa" stroke-width="0.7"/>
<path class="g" d="M26.5,-3 L31.6,-3 L32.4,-1.5 L32.4,1.5 L31.6,3 L26.5,3 Z"/>
<path class="gl" d="M0,0 L5,0 M27,0 L32,0" style="stroke-width:0.6"/>
</g>
<g transform="translate(193.6,294.9) rotate(28)">
<path class="g" d="M-3.4,-9.4 L0,-9.4 L0,9.4 L-3.4,9.4 C-9.5,9.4 -9.5,-9.4 -3.4,-9.4 Z"/>
<ellipse class="g" cx="0.4" cy="0" rx="6.6" ry="9.4"/>
<ellipse class="gl" cx="0.8" cy="0" rx="5" ry="7.4" style="stroke-width:0.7"/>
<ellipse class="gl" cx="1" cy="0" rx="1" ry="1.5"/>
</g>
<g transform="translate(211.2,305.3) rotate(28)">
<path class="g" d="M-3.4,-9.4 L0,-9.4 L0,9.4 L-3.4,9.4 C-9.5,9.4 -9.5,-9.4 -3.4,-9.4 Z"/>
<ellipse class="g" cx="0.4" cy="0" rx="6.6" ry="9.4"/>
<ellipse class="gl" cx="0.8" cy="0" rx="5" ry="7.4" style="stroke-width:0.7"/>
<ellipse class="gl" cx="1" cy="0" rx="1" ry="1.5"/>
</g>
<g transform="translate(182.8,313.3) rotate(27.4)">
<path class="g" d="M0,0 L3,-1.4 L34,-1.4 L34,1.4 L3,1.4 Z"/>
<path d="M5,0 L32,0" stroke="#aaa" stroke-width="0.8" stroke-dasharray="1.5 1.5"/>
<path class="g" d="M34,-2.6 L37,-2.6 C39,-2.6 39,2.6 37,2.6 L34,2.6 Z"/>
</g>
<g transform="translate(177.6,321.6) rotate(27.8)">
<path class="g" d="M0,0 L3,-1.4 L40,-1.4 L40,1.4 L3,1.4 Z"/>
<path d="M5,0 L38,0" stroke="#aaa" stroke-width="0.8" stroke-dasharray="1.5 1.5"/>
<path class="g" d="M40,-2.6 L43,-2.6 C45,-2.6 45,2.6 43,2.6 L40,2.6 Z"/>
</g>
<!-- right diagram -->
<g class="l">
<path d="M265.8,258.4 L265.8,318 M265.8,319.5 L272,328.5 L272,344.4" />
<path d="M268.9,246 L268.9,317.5 M279.7,246 L279.7,264"/>
<path d="M274.2,303 L274.2,322.6"/>
<!-- hatch -->
<path d="M255.4,263.5 L260.5,258.4 M255.4,269.5 L265.8,259.6 M255.4,276 L265.8,266 M255.4,282.5 L265.8,272.5 M255.4,289 L265.8,279 M255.4,295.5 L265.8,285.5 M255.4,302 L265.8,292 M255.4,308.5 L265.8,298.5 M255.4,315 L265.8,305 M258,319 L265.8,311.5 M255.4,328 L262.5,321 M255.4,334.5 L267.5,322.8 M255.4,341 L270,327.5 M258,344.4 L272,331 M265,344.4 L272,337.6" style="stroke-width:0.9"/>
<!-- dims -->
<path d="M243,252.6 L264,252.6 M284.5,252.6 L313.5,252.6 M243,315.4 L264,315.4 M279,315.4 L303.1,315.4"/>
</g>
<path d="M268.9,252.6 L257.5,250.7 L257.5,254.5 Z M279.7,252.6 L292,250.7 L292,254.5 Z M268.9,315.4 L257.5,313.5 L257.5,317.3 Z M274.2,315.4 L286.5,313.5 L286.5,317.3 Z" fill="#111"/>
<text class="s" x="292" y="251.2" style="font-size:12px;fill:#222">+16</text>
<text class="s" x="290" y="315.5" style="font-size:12px;fill:#222">+8</text>
<!-- gray spacer discs -->
<path class="gl" d="M269.5,262.5 L278,262.5 L280.3,264 L280.3,279.5 L278,281.2 L269.5,281.2 Z M272.5,262.5 L272.5,281.2 M278,262.5 L278,281.2" style="stroke-width:0.8"/>
<path class="gl" d="M269.5,286.4 L273.6,286.4 L275.1,288 L275.1,303.5 L273.6,305 L269.5,305 Z M272.3,286.4 L272.3,305" style="stroke-width:0.8"/>
<path class="gl" d="M280.3,272 L284.5,272 L284.5,296 L275.1,296 M284.5,284 L287.5,284" style="stroke-width:0.6;stroke-dasharray:2 1"/>
<path class="gl" d="M267,268 L269.5,268 M267,275.5 L269.5,275.5 M267,292 L269.5,292 M267,299 L269.5,299" style="stroke-width:0.7"/>
<!-- bracket holder -->
<path class="w" d="M312.6,311 L312.6,261.5 C312.6,257.6 325.8,257.6 325.8,261.5 L325.8,311" style="stroke-width:1.3"/>
<path d="M312.6,309.6 C315,311.6 323,311.6 325.8,309.6" class="l"/>
<path class="w" d="M287.6,274.4 L312,274.4 C315,278 323,278 326.4,274.4 L330,274.4 L330,293.6 L326.4,293.6 C323,290 315,290 312,293.6 L287.6,293.6 Z" style="stroke-width:1.4"/>
</g>

<g id="table">
<rect x="269.7" y="747.7" width="439.3" height="91.6" fill="#fff" stroke="#222" stroke-width="1.4"/>
<path d="M325.4,747.5 L325.4,839.3 M405.8,747.5 L405.8,839.3 M461.3,747.5 L461.3,839.3 M541.3,747.5 L541.3,839.3 M591.6,747.5 L591.6,839.3" stroke="#222" stroke-width="1.3" fill="none"/>
<path d="M640,750.5 L640,837 M593.6,793.4 L706,793.4" stroke="#444" stroke-width="0.9" fill="none"/>
<text x="288.4" y="763" style="font-size:17px">19</text>
<path d="M274.5,766.2 L318,766.2" stroke="#666" stroke-width="1.3"/>
<text x="424.4" y="763.6" style="font-size:17px">18</text>
<path d="M409.3,766.8 L456.3,766.8" stroke="#666" stroke-width="1.3"/>
<text class="t" x="351.3" y="776.2">30mm</text>
<text class="t" x="487.6" y="772.8">34mm</text>
<text x="610.2" y="777.9" style="font-size:17.5px">5</text>
<text x="605.5" y="823.9" style="font-size:17.5px">17</text>
<!-- wrench -->
<g class="gl" style="stroke-width:1.1;stroke:#909090">
<path d="M284.1,799.8 C282.5,797 279,795.3 274,796.8 L274.6,799.6 L277.6,800.2 L278.4,805.4 L275.4,806.4 L275.6,809.2 C280,809.6 283.5,807 285,803 L310.5,795.9 L309.8,792 L307.5,792.3 Z" fill="#fff"/>
<circle cx="314.8" cy="795.8" r="4.8" fill="#fff"/>
<circle cx="314.8" cy="795.8" r="2.8" fill="#fff"/>
</g>
<!-- nut -->
<g>
<path d="M351.2,793 L356,786.6 C360,785 367,785 371,786.6 L375.8,793 L375.8,802.5 L370,808 C366,809.2 361,809.2 357,808 L351.2,802.5 Z" fill="#fff" stroke="#111" stroke-width="1.8"/>
<path d="M351.2,793 C354,801 373,801 375.8,793 M357,799.2 L357,808 M370,799.2 L370,808" fill="none" stroke="#111" stroke-width="1.2"/>
<ellipse cx="363.5" cy="792.6" rx="9.4" ry="4.6" fill="#aaa" stroke="#111" stroke-width="2"/>
<ellipse cx="363.5" cy="792.9" rx="6.2" ry="2.7" fill="#444"/>
</g>
<!-- tool 18 -->
<g class="gl" style="stroke-width:1.2;stroke:#8c8c8c">
<path d="M422.8,785 L422.8,821.5 C422.8,828.6 443.8,828.6 443.8,821.5 L443.8,785" fill="#fff"/>
<ellipse cx="433.3" cy="785" rx="10.5" ry="5.6" fill="#fff"/>
<ellipse cx="433.3" cy="785.6" rx="7.6" ry="3.7"/>
<path d="M422.8,792.5 C425.5,797.6 441,797.6 443.8,792.5 M423.6,817.6 C426,822 440.6,822 443,817.6 M426.6,789.4 L426.6,795.6 M431,790.4 L431,796.4 M435.6,790.4 L435.6,796.4 M440,789.4 L440,795.6 M426.6,820 L426.6,825 M431,821 L431,826.6 M435.6,821 L435.6,826.6 M440,820 L440,825" style="stroke-width:0.9"/>
<ellipse cx="427.4" cy="799.8" rx="1.6" ry="2"/>
<ellipse cx="427" cy="813" rx="2" ry="2.5"/>
<path d="M438,808 L441.6,805.6 M438.4,810 L441.8,807.8 M440.6,799 L441.6,798 M440.6,815 L441.6,814" style="stroke-width:1.3"/>
</g>
<!-- ring 34mm -->
<g transform="translate(497.1,798.2) rotate(-25)">
<path d="M0,-20 L5.5,-20 A14.5,20 0 0 1 5.5,20 L0,20 Z" fill="#fff" stroke="#111" stroke-width="1.4"/>
<path d="M3,-19.6 A14.5,20 0 0 1 3,19.6" fill="none" stroke="#111" stroke-width="0.9"/>
<path d="M13.5,-12.5 L16.6,-11 M17.6,-5 L19.6,-4.4 M18.4,4 L20,4.2 M15,12.5 L17.4,13.4 M12,-14.6 L12,-9 L15.4,-8 M16.2,2 L16.2,9 L18.4,9.6" fill="none" stroke="#111" stroke-width="1.1"/>
<ellipse cx="0" cy="0" rx="14.5" ry="20" fill="#fff" stroke="#111" stroke-width="2"/>
<path d="M1.5,-18 A12.6,18 0 0 1 1.5,18" fill="none" stroke="#111" stroke-width="0.9"/>
</g>
<!-- cartridge -->
<g transform="translate(555.6,803.6) rotate(-28) scale(0.74)">
<path class="d" d="M0,-5.8 L9,-5.8 L9,5.8 L0,5.8 Z"/>
<path class="d" d="M8,-8 L20,-8 L20,8 L8,8 Z"/>
<path d="M10,-7.6 L10,7.6 M12.4,-7.6 L12.4,7.6 M14.8,-7.6 L14.8,7.6 M17.2,-7.6 L17.2,7.6" stroke="#bbb" stroke-width="1" fill="none"/>
<path class="w" d="M20,-6.4 L31,-6.4 L31,6.4 L20,6.4 Z"/>
<path class="d" d="M20,-6.4 L21.6,-6.4 L21.6,6.4 L20,6.4 Z M26.8,-6.4 L28,-6.4 L28,6.4 L26.8,6.4 Z"/>
<path class="l" d="M21.6,-2.4 L31,-2.4 M21.6,2 L31,2 M24,-6.4 L24,-2.4 M24,2 L24,6.4"/>
<path class="d" d="M31,-5.4 L40.5,-5.4 C43,-5.4 43,5.4 40.5,5.4 L31,5.4 Z"/>
<path d="M33.5,-5 L33.5,5 M36,-5 L36,5 M38.5,-5 L38.5,5" stroke="#bbb" stroke-width="0.9" fill="none"/>
<ellipse class="d" cx="0" cy="0" rx="3.8" ry="5.8"/>
<path d="M-1.8,-2 L1.6,-2.6 L1.8,2 L-1.6,2.6 Z" fill="#ddd"/>
</g>
<!-- thermo cells -->
<path d="M650.4,772.4 L682.8,756.2 M650.4,818.2 L682.8,802.6" stroke="#777" stroke-width="0.6"/>
<g transform="translate(654,778.7)">
<g transform="rotate(22)">
<rect x="-7.4" y="-4.2" width="14.8" height="8.4" rx="2.6" fill="#222" stroke="#111" stroke-width="0.8"/>
<path d="M-3.6,-3.8 L-3.6,3.8 M-0.6,-3.8 L-0.6,3.8 M2.4,-3.8 L2.4,3.8" stroke="#bbb" stroke-width="0.9"/>
<ellipse cx="5.4" cy="0" rx="1.6" ry="2.9" fill="#999"/>
<path d="M-6,-4.2 L-7.5,-7" stroke="#555" stroke-width="0.6"/>
</g>
</g>
<g transform="translate(687,759.8)">
<g transform="rotate(22)">
<rect x="-7.4" y="-4.2" width="14.8" height="8.4" rx="2.6" fill="#222" stroke="#111" stroke-width="0.8"/>
<path d="M-3.6,-3.8 L-3.6,3.8 M-0.6,-3.8 L-0.6,3.8 M2.4,-3.8 L2.4,3.8" stroke="#bbb" stroke-width="0.9"/>
<ellipse cx="5.4" cy="0" rx="1.6" ry="2.9" fill="#999"/>
<path d="M-6,-4.2 L-7.5,-7" stroke="#555" stroke-width="0.6"/>
</g>
</g>
<g transform="translate(667.7,786.6)">
<rect x="-2.4" y="-19.4" width="4.8" height="19" rx="2.4" fill="#111" stroke="#111" stroke-width="0.9"/>
<rect x="-1.2" y="-18.4" width="2.4" height="2.6" rx="1.1" fill="#fff"/>
<circle cx="0" cy="0" r="3.9" fill="#111"/>
</g>
<g transform="translate(698.6,769)">
<rect x="-2.4" y="-18.6" width="4.8" height="18" rx="2.4" fill="#fff" stroke="#111" stroke-width="0.9"/>
<path d="M-2.4,-15.5 L0.4,-15.5 M-2.4,-13.5 L0.4,-13.5 M-2.4,-11.5 L0.4,-11.5 M-2.4,-9.5 L0.4,-9.5 M-2.4,-7.5 L0.4,-7.5 M-2.4,-5.5 L0.4,-5.5" stroke="#111" stroke-width="0.7"/>
<circle cx="0" cy="0" r="3.9" fill="#111"/>
</g>
<g transform="translate(654,824.4)">
<g transform="rotate(22)">
<rect x="-7.4" y="-4.2" width="14.8" height="8.4" rx="2.6" fill="#222" stroke="#111" stroke-width="0.8"/>
<path d="M-3.6,-3.8 L-3.6,3.8 M-0.6,-3.8 L-0.6,3.8 M2.4,-3.8 L2.4,3.8" stroke="#bbb" stroke-width="0.9"/>
<ellipse cx="5.4" cy="0" rx="1.6" ry="2.9" fill="#999"/>
<path d="M-6,-4.2 L-7.5,-7" stroke="#555" stroke-width="0.6"/>
</g>
</g>
<g transform="translate(687,805.4)">
<g transform="rotate(22)">
<rect x="-7.4" y="-4.2" width="14.8" height="8.4" rx="2.6" fill="#222" stroke="#111" stroke-width="0.8"/>
<path d="M-3.6,-3.8 L-3.6,3.8 M-0.6,-3.8 L-0.6,3.8 M2.4,-3.8 L2.4,3.8" stroke="#bbb" stroke-width="0.9"/>
<ellipse cx="5.4" cy="0" rx="1.6" ry="2.9" fill="#999"/>
<path d="M-6,-4.2 L-7.5,-7" stroke="#555" stroke-width="0.6"/>
</g>
</g>
<g transform="translate(667.8,833.4)">
<rect x="-2.4" y="-18.6" width="4.8" height="18" rx="2.4" fill="#fff" stroke="#111" stroke-width="0.9"/>
<path d="M-2.4,-15.5 L0.4,-15.5 M-2.4,-13.5 L0.4,-13.5 M-2.4,-11.5 L0.4,-11.5 M-2.4,-9.5 L0.4,-9.5 M-2.4,-7.5 L0.4,-7.5 M-2.4,-5.5 L0.4,-5.5" stroke="#111" stroke-width="0.7"/>
<circle cx="0" cy="0" r="3.9" fill="#111"/>
</g>
<g transform="translate(698.9,815.4)">
<rect x="-2.4" y="-19.4" width="4.8" height="19" rx="2.4" fill="#111" stroke="#111" stroke-width="0.9"/>
<rect x="-1.2" y="-18.4" width="2.4" height="2.6" rx="1.1" fill="#fff"/>
<circle cx="0" cy="0" r="3.9" fill="#111"/>
</g>
</g>

</svg>
</body>
</html>
